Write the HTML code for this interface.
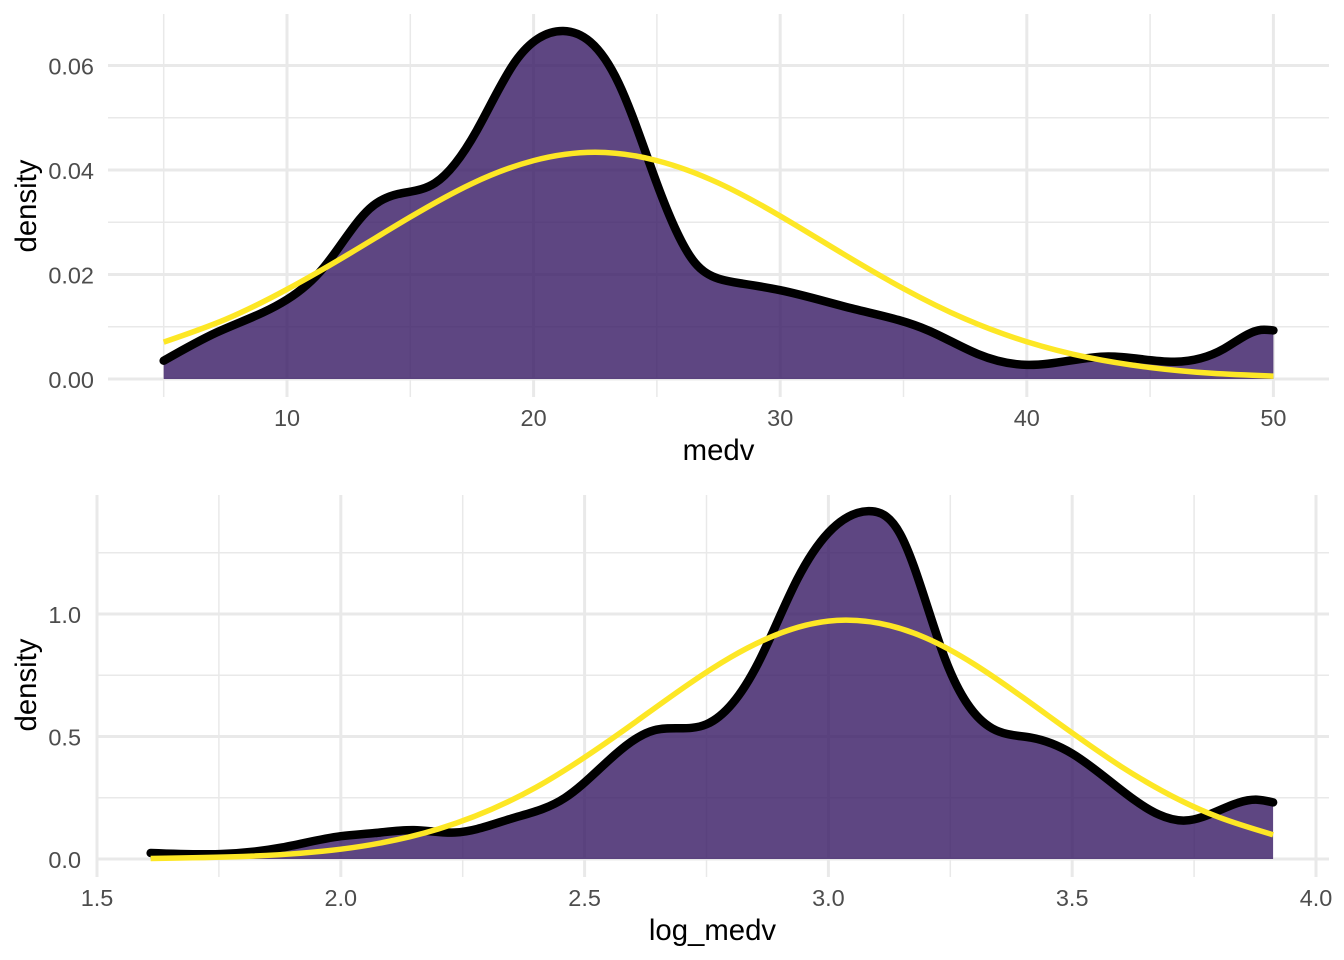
<!DOCTYPE html>
<html>
<head>
<meta charset="utf-8">
<title>Density of medv and log_medv</title>
<style>
html,body{margin:0;padding:0;background:#fff;width:1344px;height:960px;overflow:hidden}
svg{display:block}
text{font-family:"Liberation Sans",Arial,sans-serif}
</style>
</head>
<body>
<svg id="chart" xmlns="http://www.w3.org/2000/svg" width="1344" height="960" viewBox="0 0 1344 960"></svg>
<script>
// Top panel (medv)
const medvX = [5,7.14,10,11.5,13.35,14.5,16,17.7,19.25,20.2,21.2,22.3,23.45,25,26.55,27.5,28.4,30,33,36,38,40,43.3,46,48,49.5,50];
const medvDensity = [.0035,.0089,.0152,.0214,.0326,.0354,.0375,.0476,.0607,.0652,.0666,.0645,.0566,.0374,.0222,.0192,.0183,.017,.0134,.0093,.0048,.0027,.0043,.0033,.0058,.0094,.0093];
const medvNormalX = [5,7.5,10,12.5,15,17.5,20,22.5,25,27.5,30,32.5,35,37.5,40,42.5,45,47.5,50];
const medvNormal = [.00706,.0114,.01716,.0239,.031,.0374,.0418,.0434,.0418,.0375,.0312,.0241,.0173,.0115,.00713,.0041,.0022,.00109,.00055];
const medvXMajor = [10,20,30,40,50];
const medvXMinor = [5,15,25,35,45];
const medvYMajor = [0,0.02,0.04,0.06];
const medvYMinor = [0.01,0.03,0.05];
const medvXLabels = ["10","20","30","40","50"];
const medvYLabels = ["0.00","0.02","0.04","0.06"];

// Bottom panel (log_medv)
const logX = [1.61,1.75,1.88,2,2.07,2.15,2.234,2.35,2.46,2.548,2.642,2.75,2.856,2.936,3,3.082,3.147,3.24,3.336,3.416,3.5,3.624,3.732,3.88,3.912];
const logDensity = [.0245,.02,.047,.093,.106,.118,.108,.165,.25,.4,.525,.55,.8,1.141,1.332,1.42,1.327,.813,.533,.495,.43,.246,.157,.242,.231];
const logNormalX = [1.61,1.8,2,2.2,2.4,2.6,2.8,3,3.035,3.2,3.4,3.6,3.8,3.912];
const logNormal = [.0023,.0104,.04,.1225,.292,.553,.824,.971,.975,.902,.658,.378,.171,.099];
const logXMajor = [1.5,2,2.5,3,3.5,4];
const logXMinor = [1.75,2.25,2.75,3.25,3.75];
const logYMajor = [0,0.5,1];
const logYMinor = [0.25,0.75,1.25];
const logXLabels = ["1.5","2.0","2.5","3.0","3.5","4.0"];
const logYLabels = ["0.0","0.5","1.0"];

const NS = "http://www.w3.org/2000/svg";
const svg = document.getElementById("chart");

function make(parent, tag, name) {
  const el = document.createElementNS(NS, tag);
  
  
  parent.appendChild(el);
  return el;
}

// Natural cubic spline through the data, emitted as bezier segments
function smoothPath(xs, ys, sx, sy, move) {
  const px = xs.map(sx), py = ys.map(sy), n = px.length;
  const h = [];
  for (let i = 0; i < n - 1; i++) h.push(px[i + 1] - px[i]);
  const c = new Array(n).fill(0), r = new Array(n).fill(0), m = new Array(n).fill(0);
  for (let i = 1; i < n - 1; i++) {
    const b = 2 * (h[i - 1] + h[i]) - h[i - 1] * c[i - 1];
    c[i] = h[i] / b;
    r[i] = (6 * ((py[i + 1] - py[i]) / h[i] - (py[i] - py[i - 1]) / h[i - 1]) - h[i - 1] * r[i - 1]) / b;
  }
  for (let i = n - 2; i > 0; i--) m[i] = r[i] - c[i] * m[i + 1];
  const slope = [];
  for (let i = 0; i < n - 1; i++) slope.push((py[i + 1] - py[i]) / h[i] - h[i] * (2 * m[i] + m[i + 1]) / 6);
  slope.push((py[n - 1] - py[n - 2]) / h[n - 2] + h[n - 2] * (m[n - 2] + 2 * m[n - 1]) / 6);
  let d = (move ? "M" : "L") + px[0].toFixed(2) + " " + py[0].toFixed(2);
  for (let i = 0; i < n - 1; i++) {
    const t = h[i] / 3;
    d += "C" + (px[i] + t).toFixed(2) + " " + (py[i] + slope[i] * t).toFixed(2) + " " +
         (px[i + 1] - t).toFixed(2) + " " + (py[i + 1] - slope[i + 1] * t).toFixed(2) + " " +
         px[i + 1].toFixed(2) + " " + py[i + 1].toFixed(2);
  }
  return d;
}

function drawPanel(p) {
  const g = make(svg, "g", p.name + "-panel");
  const grid = make(g, "g", p.name + "-grid");
  const vline = (v, w, nm) => {
    const l = make(grid, "line", nm);
    l.setAttribute("x1", p.sx(v)); l.setAttribute("x2", p.sx(v));
    l.setAttribute("y1", p.top); l.setAttribute("y2", p.bottom);
    l.setAttribute("stroke", "#E9E9E9"); l.setAttribute("stroke-width", w);
  };
  const hline = (v, w, nm) => {
    const l = make(grid, "line", nm);
    l.setAttribute("x1", p.left); l.setAttribute("x2", p.right);
    l.setAttribute("y1", p.sy(v)); l.setAttribute("y2", p.sy(v));
    l.setAttribute("stroke", "#E9E9E9"); l.setAttribute("stroke-width", w);
  };
  p.yMinor.forEach(v => hline(v, 1.5, "y-minor-gridline"));
  p.xMinor.forEach(v => vline(v, 1.5, "x-minor-gridline"));
  p.yMajor.forEach(v => hline(v, 3, "y-major-gridline"));
  p.xMajor.forEach(v => vline(v, 3, "x-major-gridline"));

  const x0 = p.sx(p.x[0]), x1 = p.sx(p.x[p.x.length - 1]), y0 = p.sy(0).toFixed(2);
  const area = make(g, "path", p.name + "-density-area");
  area.setAttribute("d", "M" + x0 + " " + y0 + smoothPath(p.x, p.y, p.sx, p.sy, false) + "L" + x1 + " " + y0 + "Z");
  area.setAttribute("fill", "rgb(54,24,99)");
  area.setAttribute("fill-opacity", "0.8");

  const dens = make(g, "path", p.name + "-density-line");
  dens.setAttribute("d", smoothPath(p.x, p.y, p.sx, p.sy, true));
  dens.setAttribute("fill", "none");
  dens.setAttribute("stroke", "#000");
  dens.setAttribute("stroke-width", "8.5");
  dens.setAttribute("stroke-linecap", "round");
  dens.setAttribute("stroke-linejoin", "round");

  const norm = make(g, "path", p.name + "-normal-curve");
  norm.setAttribute("d", smoothPath(p.nx, p.ny, p.sx, p.sy, true));
  norm.setAttribute("fill", "none");
  norm.setAttribute("stroke", "#FDE725");
  norm.setAttribute("stroke-width", "5.5");

  const label = (str, x, y, anchor, size, color, nm) => {
    const t = make(g, "text", nm);
    t.setAttribute("x", x); t.setAttribute("y", y);
    t.setAttribute("text-anchor", anchor);
    t.setAttribute("font-size", size);
    t.setAttribute("fill", color);
    t.textContent = str;
    return t;
  };
  p.xMajor.forEach((v, i) => label(p.xLabels[i], p.sx(v), p.xTickY, "middle", 23.47, "#4D4D4D", "x-tick-label"));
  p.yMajor.forEach((v, i) => label(p.yLabels[i], p.yTickX, p.sy(v) + 8.8, "end", 23.47, "#4D4D4D", "y-tick-label"));
  label(p.xTitle, p.xTitleX, p.xTitleY, "middle", 29.33, "#000", "x-axis-title");
  const yt = label("density", 0, 0, "middle", 29.33, "#000", "y-axis-title");
  yt.setAttribute("transform", "translate(36 " + p.yTitleY + ") rotate(-90)");
}

drawPanel({
  name: "medv", left: 108, right: 1329, top: 14, bottom: 397,
  sx: v => 287 + (v - 10) * 24.66,
  sy: v => 379 - v * 5225,
  x: medvX, y: medvDensity, nx: medvNormalX, ny: medvNormal,
  xMajor: medvXMajor, xMinor: medvXMinor, yMajor: medvYMajor, yMinor: medvYMinor,
  xLabels: medvXLabels, yLabels: medvYLabels,
  xTickY: 426, yTickX: 94, xTitle: "medv", xTitleX: 718.5, xTitleY: 460, yTitleY: 206
});

drawPanel({
  name: "log-medv", left: 96, right: 1329, top: 495, bottom: 877,
  sx: v => 97 + (v - 1.5) * 487.6,
  sy: v => 859 - v * 245,
  x: logX, y: logDensity, nx: logNormalX, ny: logNormal,
  xMajor: logXMajor, xMinor: logXMinor, yMajor: logYMajor, yMinor: logYMinor,
  xLabels: logXLabels, yLabels: logYLabels,
  xTickY: 906, yTickX: 81, xTitle: "log_medv", xTitleX: 712.5, xTitleY: 940, yTitleY: 685
});
</script>
</body>
</html>
